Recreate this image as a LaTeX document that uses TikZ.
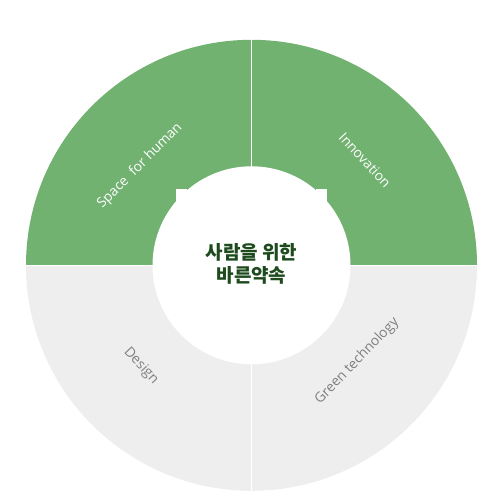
\documentclass[tikz,border=0pt]{standalone}
\usepackage{fontspec}
\setmainfont{Open Sans}
\newfontfamily\kfont{Noto Sans CJK KR}
\definecolor{ringgreen}{HTML}{71B271}
\definecolor{ringgrey}{HTML}{EEEEEE}
\definecolor{labgrey}{HTML}{7F7F7F}
\definecolor{darkgreen}{HTML}{1E4B1E}
\tikzset{
  lab/.style={font=\fontsize{13.8}{16}\selectfont, inner sep=0pt}
}
\begin{document}
\begin{tikzpicture}[x=1pt,y=1pt]
\useasboundingbox (0,0) rectangle (502,501);
\fill[white] (0,0) rectangle (502,501);
\coordinate (c) at (251.5,235.7);
% quadrants
\fill[ringgreen] (c) -- ++(225.5,0) arc (0:90:225.5) -- cycle;
\fill[ringgreen] (c) -- ++(0,225.5) arc (90:180:225.5) -- cycle;
\fill[ringgrey] (c) -- ++(-225.5,0) arc (180:270:225.5) -- cycle;
\fill[ringgrey] (c) -- ++(0,-225.5) arc (270:360:225.5) -- cycle;
\draw[white, line width=1.5pt] (251.5,5) -- (251.5,470);
\draw[white, line width=1.5pt] (20,235.7) -- (482,235.7);
% notches
\fill[white] (176,312) rectangle (187,295);
\fill[white] (316,312) rectangle (327,295);
% inner circle
\node[circle, fill=white, minimum size=198pt, inner sep=0pt] (hub) at (c) {};
\node[align=center, font=\kfont\bfseries\fontsize{19}{22.5}\selectfont, text=darkgreen] (title) at (251.5,237) {사람을 위한\\바른약속};
% labels
\node[lab, text=white, rotate=45] (l1) at (140,335) {Space\ \ for human};
\node[lab, text=white, rotate=-47] (l2) at (365,341) {Innovation};
\node[lab, text=labgrey, rotate=-47] (l3) at (141,135) {Design};
\node[lab, text=labgrey, rotate=46] (l4) at (357,140) {Green technology};
\end{tikzpicture}
\end{document}
